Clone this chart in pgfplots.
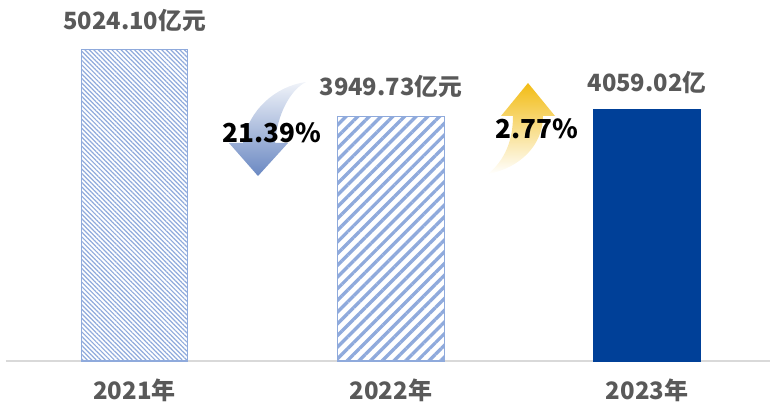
\documentclass[border=0pt]{standalone}
\usepackage{fontspec}
\setmainfont{Noto Sans CJK SC}
\usepackage{pgfplots}
\pgfplotsset{compat=1.18}
\usetikzlibrary{patterns.meta}
\definecolor{patBlue}{HTML}{8FAADC}
\definecolor{darkBlue}{HTML}{004098}
\definecolor{lineGray}{HTML}{D9D9D9}
\definecolor{labelGray}{HTML}{595959}
\definecolor{downTop}{HTML}{F0F3F9}
\definecolor{downBot}{HTML}{6A88C2}
\definecolor{upTop}{HTML}{F2BC14}
\begin{document}
\begin{tikzpicture}
\path[use as bounding box] (-4.5pt,-32.25pt) rectangle (573pt,270.75pt);
\begin{axis}[
  scale only axis,
  width=573.75pt, height=270.75pt,
  xmin=-0.502, xmax=2.484,
  ymin=0, ymax=5823,
  clip=false,
  axis y line=none,
  axis x line*=bottom,
  x axis line style={draw=lineGray, line width=2pt, -},
  xtick={0,1,2},
  xticklabels={2021年,2022年,2023年},
  major tick length=0pt,
  xticklabel style={anchor=base, yshift=-28.5pt, font=\bfseries\fontsize{18}{18}\selectfont, text=labelGray},
  ytick=\empty,
  ybar, bar width=80pt, bar shift=0pt,
]
\addplot[draw=patBlue, line width=0.8pt, pattern={Lines[angle=-45, distance=2.4pt, line width=0.9pt]}, pattern color=patBlue] coordinates {(0,5024.10)};
\addplot[draw=patBlue, line width=0.8pt, pattern={Lines[angle=45, distance=6.2pt, line width=2.5pt]}, pattern color=patBlue] coordinates {(1,3949.73)};
\addplot[draw=darkBlue, fill=darkBlue] coordinates {(2,4059.02)};
\node[anchor=base, font=\bfseries\fontsize{17.8}{17.8}\selectfont, text=labelGray] at (axis cs:0,5355) {5024.10亿元};
\node[anchor=base, font=\bfseries\fontsize{17.8}{17.8}\selectfont, text=labelGray] at (axis cs:1,4290) {3949.73亿元};
\node[anchor=base, font=\bfseries\fontsize{17.8}{17.8}\selectfont, text=labelGray] at (axis cs:2,4355) {4059.02亿};
\end{axis}
\begin{scope}[shift={(-4.5pt,270.75pt)}, x=0.75pt, y=-0.75pt]
\shade[top color=downTop, bottom color=downBot]
  (306,82) .. controls (276,86) and (248,110) .. (243,143) -- (229,143) -- (258,176) -- (288,143) -- (275,143) .. controls (277,115) and (290,90) .. cycle;
\shade[top color=upTop, bottom color=white]
  (528,83) -- (555,116) -- (543,116) .. controls (543,145) and (520,168) .. (488,174) .. controls (505,160) and (513,140) .. (513,116) -- (501,116) -- cycle;
\node[anchor=base, font=\bfseries\fontsize{19.6}{19.6}\selectfont, text=black] at (272,142) {21.39\%};
\node[anchor=base, font=\bfseries\fontsize{19.6}{19.6}\selectfont, text=black] at (537,138) {2.77\%};
\end{scope}
\end{tikzpicture}
\end{document}
